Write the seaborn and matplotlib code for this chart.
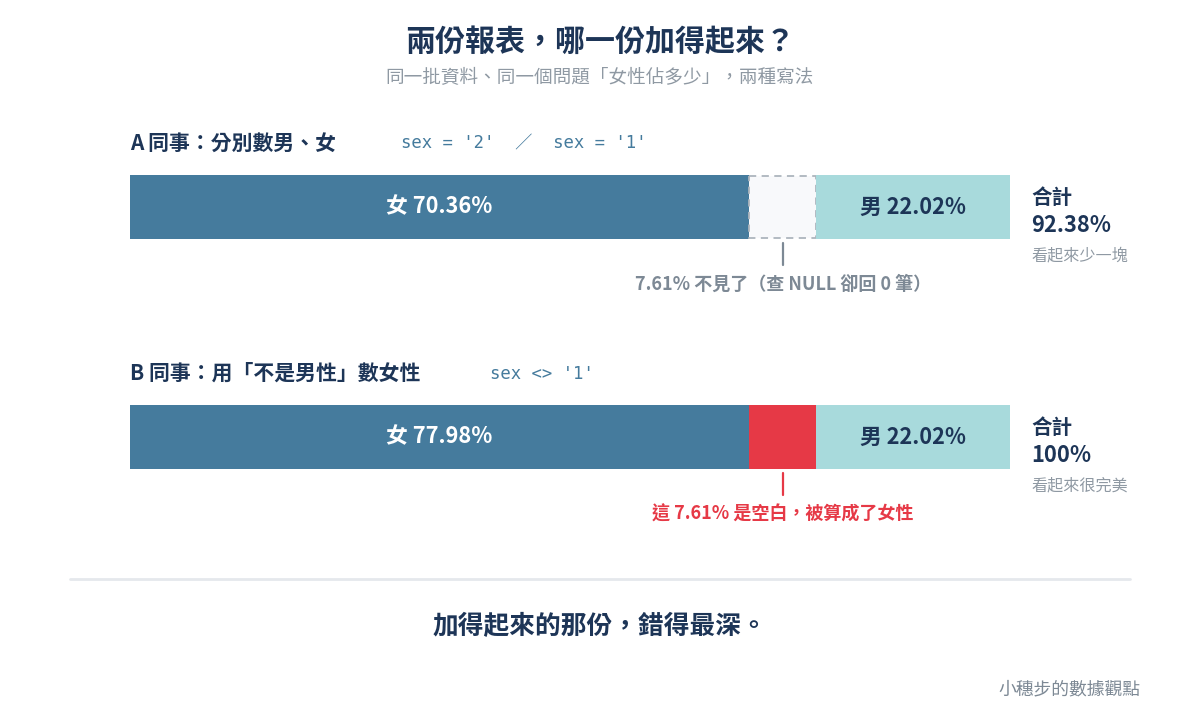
import matplotlib
matplotlib.use("Agg")
import matplotlib.pyplot as plt
import seaborn as sns
import pandas as pd

sns.set_theme(style="white")
plt.rcParams['font.family'] = ['Noto Sans CJK TC', 'DejaVu Sans']

# ---- data ----
scenarios = ["A", "B"]
female_pct = [70.36, 77.98]
missing_pct = [7.61, 0.0]
male_pct = [22.02, 22.02]
total_labels = ["92.38%", "100%"]
total_notes = ["看起來少一塊", "看起來很完美"]
section_titles = ["A 同事：分別數男、女", "B 同事：用「不是男性」數女性"]
section_code = ["sex = '2'  ／  sex = '1'", "sex <> '1'"]
null_pct = 7.61
annotations = ["7.61% 不見了（查 NULL 卻回 0 筆）", "這 7.61% 是空白，被算成了女性"]

C_F = "#457b9d"
C_M = "#a8dadc"
C_RED = "#e63946"
C_NAVY = "#1d3557"
C_GRAY = "#7d8995"
C_LGRAY = "#8f99a3"

W, H = 1200, 720
fig = plt.figure(figsize=(12, 7.2), dpi=100)
fig.patch.set_facecolor("white")

# axes for bars: x in percent, y in pixels
L, R = 130, 1010
ax = fig.add_axes([L / W, 0, (R - L) / W, 1])
ax.set_xlim(0, 100)
ax.set_ylim(H, 0)
ax.axis("off")

# text overlay axes in pixel coords
tx = fig.add_axes([0, 0, 1, 1], facecolor="none")
tx.set_xlim(0, W)
tx.set_ylim(H, 0)
tx.axis("off")

bar_y = [207, 437]
bar_h = 64
df = pd.DataFrame({"scenario": scenarios, "female": female_pct,
                   "missing": missing_pct, "male": male_pct, "y": bar_y})

for i, row in df.iterrows():
    y = row["y"]
    f, m, mi = row["female"], row["male"], row["missing"]
    ax.barh(y, f, left=0, height=bar_h, color=C_F, edgecolor="none")
    if i == 0:
        ax.barh(y, mi, left=f, height=bar_h - 2, color="#f8f9fb",
                edgecolor="#adb5bd", linestyle=(0, (4, 3)), linewidth=1.3)
        gap_left = f
    else:
        # red block: the 7.61% inside female bar
        ax.barh(y, null_pct, left=f - null_pct, height=bar_h, color=C_RED, edgecolor="none")
        gap_left = f - null_pct
    ax.barh(y, m, left=100 - m, height=bar_h, color=C_M, edgecolor="none")
    fem_end = f if i == 0 else f - null_pct
    ax.text(fem_end / 2, y, f"女 {f:.2f}%", color="white", fontsize=15.7,
            fontweight="bold", ha="center", va="center")
    ax.text(100 - m / 2, y, f"男 {m:.2f}%", color=C_NAVY, fontsize=15.7,
            fontweight="bold", ha="center", va="center")
    # annotation tick + text
    cx = gap_left + null_pct / 2
    col = C_GRAY if i == 0 else C_RED
    ax.plot([cx, cx], [y + 36, y + 58], color=col, lw=1.6)
    ax.text(cx, y + 77, annotations[i], color=col, fontsize=13, fontweight="bold",
            ha="center", va="center")
    # totals
    tx.text(1031, y - 10, "合計", color=C_NAVY, fontsize=14.8, fontweight="bold",
            ha="left", va="center")
    tx.text(1031, y + 18, total_labels[i], color=C_NAVY, fontsize=15.8, fontweight="bold",
            ha="left", va="center")
    tx.text(1031, y + 49, total_notes[i], color=C_LGRAY, fontsize=11.6,
            ha="left", va="center")

# section titles
sec_y = [143, 373]
code_x = [401, 490]
for i in range(2):
    tx.text(130, sec_y[i], section_titles[i], color=C_NAVY, fontsize=15,
            fontweight="bold", ha="left", va="center")
    tx.text(code_x[i], sec_y[i] + 1, section_code[i], color=C_F, fontsize=12.4,
            family=["DejaVu Sans Mono", "Noto Sans CJK TC"], ha="left", va="center")

# title / subtitle
tx.text(600, 42, "兩份報表，哪一份加得起來？", color=C_NAVY, fontsize=21.6,
        fontweight="bold", ha="center", va="center")
tx.text(600, 78, "同一批資料、同一個問題「女性佔多少」，兩種寫法", color=C_LGRAY,
        fontsize=13.4, ha="center", va="center")

# separator + footer
tx.plot([70, 1130], [579, 579], color="#e5e8ec", lw=2)
tx.text(600, 627, "加得起來的那份，錯得最深。", color=C_NAVY, fontsize=18.5,
        fontweight="bold", ha="center", va="center")
tx.text(1140, 689, "小穗步的數據觀點", color=C_GRAY, fontsize=12.8,
        ha="right", va="center")

fig.savefig("out.png", dpi=100, facecolor="white")
